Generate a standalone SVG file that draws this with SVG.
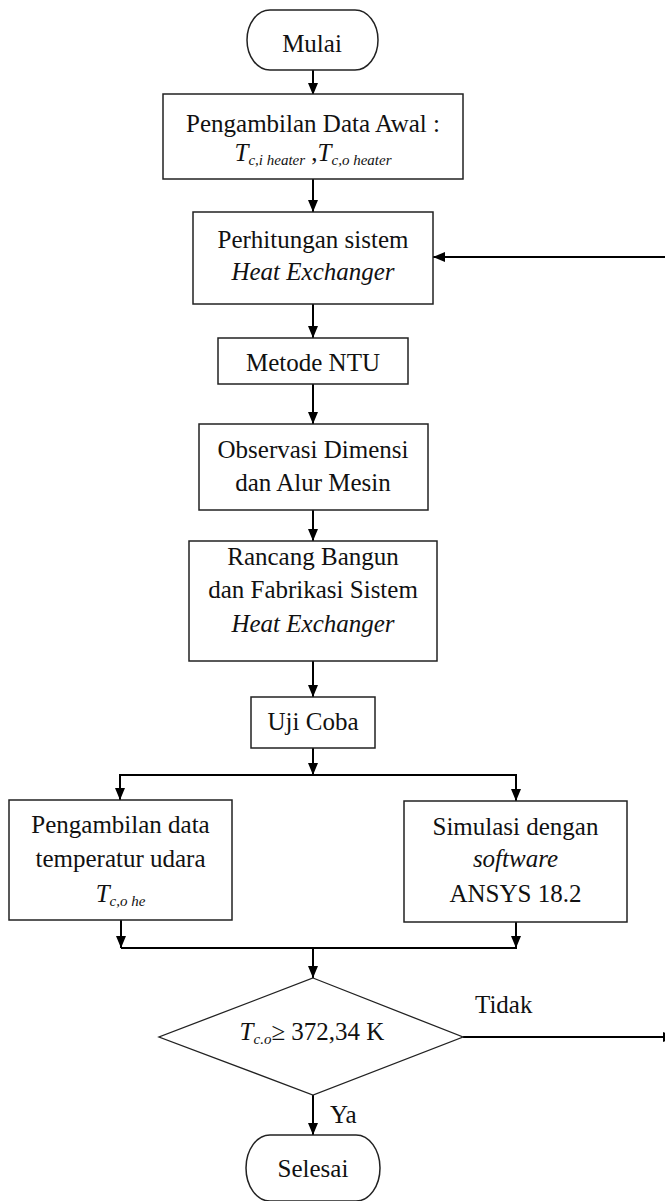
<svg xmlns="http://www.w3.org/2000/svg" width="665" height="1201" viewBox="0 0 665 1201">
<style>
.box{fill:#fff;stroke:#222;stroke-width:1.5}
.t{font-family:"Liberation Serif","Times New Roman",serif;font-size:25px;fill:#111;text-anchor:middle}
.i{font-style:italic}
.sub{font-style:italic;font-size:15px}
.ln{fill:none;stroke:#000;stroke-width:2}
</style>
<defs>
<marker id="ah" viewBox="0 0 12 10" refX="12" refY="5" markerWidth="12" markerHeight="10" markerUnits="userSpaceOnUse" orient="auto">
<path d="M0,0 L12,5 L0,10 z" fill="#000"/>
</marker>
</defs>
<g id="connectors">
<line class="ln" x1="313" y1="70" x2="313" y2="95" marker-end="url(#ah)"/>
<line class="ln" x1="313" y1="179" x2="313" y2="212" marker-end="url(#ah)"/>
<line class="ln" x1="313" y1="304" x2="313" y2="338" marker-end="url(#ah)"/>
<line class="ln" x1="313" y1="384" x2="313" y2="424" marker-end="url(#ah)"/>
<line class="ln" x1="313" y1="510" x2="313" y2="541" marker-end="url(#ah)"/>
<line class="ln" x1="313" y1="661" x2="313" y2="697" marker-end="url(#ah)"/>
<line class="ln" x1="313" y1="748" x2="313" y2="775" marker-end="url(#ah)"/>
<line class="ln" x1="120" y1="775" x2="517" y2="775"/>
<line class="ln" x1="120" y1="774" x2="120" y2="800" marker-end="url(#ah)"/>
<line class="ln" x1="516" y1="774" x2="516" y2="801" marker-end="url(#ah)"/>
<line class="ln" x1="121" y1="920" x2="121" y2="948" marker-end="url(#ah)"/>
<line class="ln" x1="516" y1="922" x2="516" y2="948" marker-end="url(#ah)"/>
<line class="ln" x1="121" y1="948" x2="517" y2="948"/>
<line class="ln" x1="313" y1="948" x2="313" y2="978" marker-end="url(#ah)"/>
<line class="ln" x1="313" y1="1095" x2="313" y2="1135" marker-end="url(#ah)"/>
<line class="ln" x1="463" y1="1037" x2="675" y2="1037" marker-end="url(#ah)"/>
<line class="ln" x1="670" y1="257" x2="433" y2="257" marker-end="url(#ah)"/>
<text class="t" x="475" y="1013" style="text-anchor:start">Tidak</text>
<text class="t" x="330" y="1123" style="text-anchor:start">Ya</text>
</g>
<g id="mulai">
<path class="box" d="M270,10 H355 A23,30 0 0 1 355,70 H270 A23,30 0 0 1 270,10 Z"/>
<text class="t" x="312" y="52">Mulai</text>
</g>
<g id="data-awal">
<rect class="box" x="163" y="94" width="300" height="85"/>
<text class="t" x="313" y="132">Pengambilan Data Awal :</text>
<text class="t" x="313" y="161"><tspan class="i">T</tspan><tspan class="sub" dy="4">c,i heater</tspan><tspan dy="-4"> ,</tspan><tspan class="i">T</tspan><tspan class="sub" dy="4">c,o heater</tspan></text>
</g>
<g id="perhitungan">
<rect class="box" x="193" y="212" width="240" height="92"/>
<text class="t" x="313" y="248">Perhitungan sistem</text>
<text class="t i" x="313" y="280">Heat Exchanger</text>
</g>
<g id="ntu">
<rect class="box" x="218" y="338" width="190" height="46"/>
<text class="t" x="313" y="371">Metode NTU</text>
</g>
<g id="observasi">
<rect class="box" x="199" y="424" width="229" height="86"/>
<text class="t" x="313" y="458">Observasi Dimensi</text>
<text class="t" x="313" y="491">dan Alur Mesin</text>
</g>
<g id="rancang">
<rect class="box" x="189" y="541" width="248" height="120"/>
<text class="t" x="313" y="565">Rancang Bangun</text>
<text class="t" x="313" y="598">dan Fabrikasi Sistem</text>
<text class="t i" x="313" y="632">Heat Exchanger</text>
</g>
<g id="uji">
<rect class="box" x="251" y="697" width="124" height="51"/>
<text class="t" x="313" y="730">Uji Coba</text>
</g>
<g id="pengambilan">
<rect class="box" x="9" y="800" width="223" height="120"/>
<text class="t" x="120.5" y="833">Pengambilan data</text>
<text class="t" x="120.5" y="867">temperatur udara</text>
<text class="t" x="120.5" y="902"><tspan class="i">T</tspan><tspan class="sub" dy="4">c,o he</tspan></text>
</g>
<g id="simulasi">
<rect class="box" x="404" y="801" width="223" height="121"/>
<text class="t" x="515.5" y="835">Simulasi dengan</text>
<text class="t i" x="515.5" y="867">software</text>
<text class="t" x="515.5" y="902">ANSYS 18.2</text>
</g>
<g id="keputusan">
<polygon class="box" points="313,978 463,1037 313,1095 159,1037" style="stroke-width:1.3"/>
<text class="t" x="312" y="1040"><tspan class="i">T</tspan><tspan class="sub" dy="4">c.o</tspan><tspan dy="-4">≥ 372,34 K</tspan></text>
</g>
<g id="selesai">
<path class="box" d="M270,1135 H356 A24,33 0 0 1 356,1201 H270 A24,33 0 0 1 270,1135 Z"/>
<text class="t" x="313" y="1177">Selesai</text>
</g>
</svg>
